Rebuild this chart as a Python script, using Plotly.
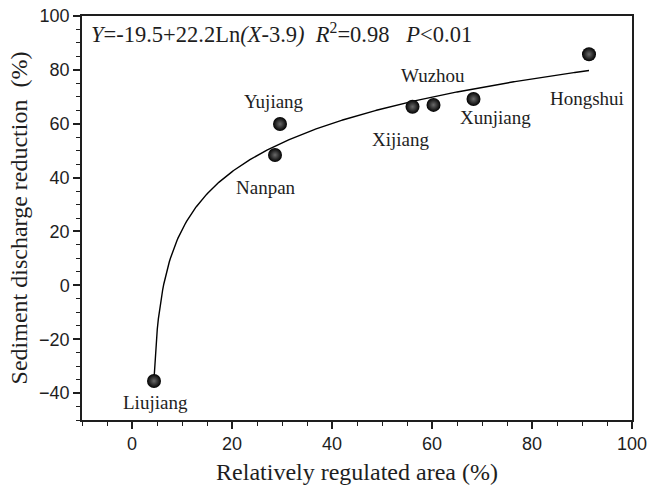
import plotly.graph_objects as go
import numpy as np

rivers = ["Liujiang", "Nanpan", "Yujiang", "Xijiang", "Wuzhou", "Xunjiang", "Hongshui"]
regulated_area = [4.4, 28.6, 29.6, 56.1, 60.3, 68.3, 91.4]
sediment_reduction = [-35.5, 48.4, 59.9, 66.3, 67.0, 69.2, 85.8]

# label offsets in pixels (dx, dy) relative to the point
label_dx = [1, -9, -6, -12, -1, 22, -2]
label_dy = [-22, -33, 23, -33, 29, -19, -44]

# fitted curve Y = a + b*ln(X - c), as printed on the chart
fit_a, fit_b, fit_c = -19.5, 22.2, 3.9

fx = np.linspace(min(regulated_area), max(regulated_area), 400)
fy = fit_a + fit_b * np.log(fx - fit_c)

serif = "Liberation Serif, Times New Roman, serif"
sans = "Liberation Sans, Arial, sans-serif"
ink = "#1e1e1e"

fig = go.Figure()
fig.add_trace(go.Scatter(x=fx, y=fy, mode="lines",
                         line=dict(color="black", width=1.4),
                         hoverinfo="skip", showlegend=False))
fig.add_trace(go.Scatter(x=regulated_area, y=sediment_reduction, mode="markers",
                         marker=dict(size=14, color="#000000",
                                     gradient=dict(type="radial", color="#6a6a6a"),
                                     line=dict(width=0)),
                         text=rivers, showlegend=False))

for name, x, y, dx, dy in zip(rivers, regulated_area, sediment_reduction, label_dx, label_dy):
    fig.add_annotation(x=x, y=y, text=name, showarrow=False,
                       xshift=dx, yshift=dy,
                       font=dict(family=serif, size=19, color=ink))

eq = ("<i>Y</i>=-19.5+22.2Ln<i>(X</i>-3.9<i>)</i>&nbsp;&nbsp;"
      "<i>R</i><sup>2</sup>=0.98&nbsp;&nbsp;&nbsp;<i>P</i>&lt;0.01")
fig.add_annotation(xref="paper", yref="paper", x=0.012, y=0.957,
                   xanchor="left", yanchor="middle", text=eq, showarrow=False,
                   font=dict(family=serif, size=22.5, color=ink))

axis_common = dict(showline=True, linecolor=ink, linewidth=1.5, mirror=True,
                   ticks="outside", ticklen=7, tickwidth=1.5, tickcolor=ink,
                   showgrid=False, zeroline=False, automargin=False,
                   ticklabeloverflow="allow",
                   tickfont=dict(family=sans, size=18, color=ink),
                   minor=dict(ticks="outside", ticklen=4, tickwidth=1.2, tickcolor=ink))

fig.update_xaxes(range=[-10, 100], dtick=20, tick0=0,
                 title=dict(text="Relatively regulated area (%)",
                            font=dict(family=serif, size=24, color=ink), standoff=10),
                 **axis_common)
fig.update_yaxes(range=[-50, 100], dtick=20, tick0=0,
                 title=dict(text="Sediment discharge reduction&nbsp;&nbsp;(%)",
                            font=dict(family=serif, size=24, color=ink), standoff=5),
                 **axis_common)

fig.update_layout(width=648, height=490,
                  margin=dict(l=82, r=16, t=16, b=70),
                  plot_bgcolor="white", paper_bgcolor="white")

# remove the default 8px page margin so the figure fills the window exactly
fig.write_html("out.html", config={"displayModeBar": False},
               post_script="document.body.style.margin='0';document.body.style.overflow='hidden';")
